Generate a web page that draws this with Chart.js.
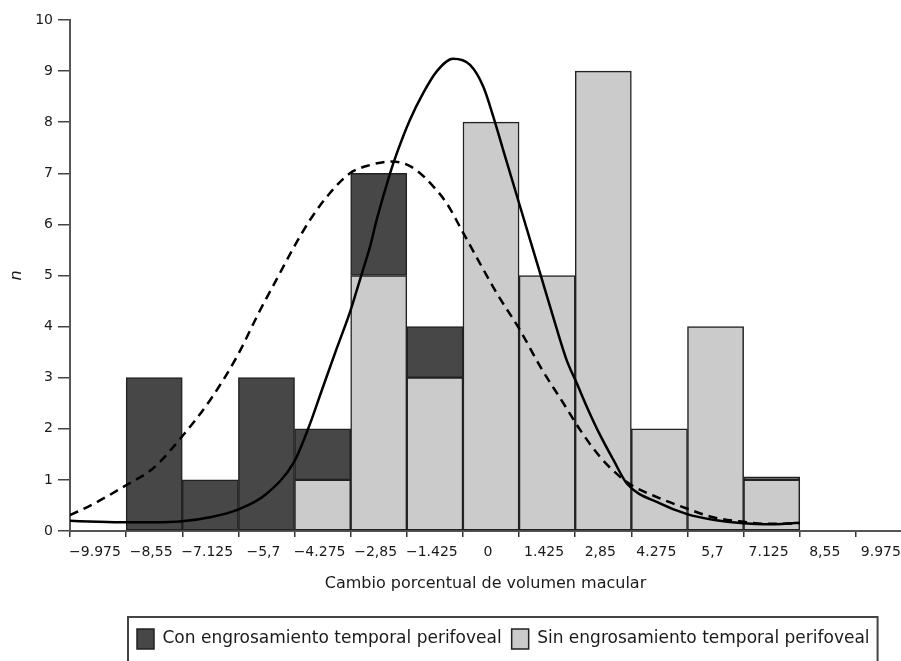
<!DOCTYPE html>
<html>
<head>
<meta charset="utf-8">
<title>Cambio porcentual de volumen macular</title>
<script src="https://cdn.jsdelivr.net/npm/chart.js@4.4.1/dist/chart.umd.min.js"></script>
<style>
  html, body { margin: 0; padding: 0; background: #fff; }
  #chart { display: block; }
</style>
</head>
<body>
<canvas id="chart" width="901" height="661"></canvas>
<script>
// histogram bins: left edge of each bin, counts per group (stacked)
const binStarts = [-8.55, -7.125, -5.7, -4.275, -2.85, -1.425, 0, 1.425, 2.85, 4.275, 5.7, 7.125];
const binWidth = 1.425;
const sinCounts = [0, 0, 0, 1, 5, 3, 8, 5, 9, 2, 4, 1];
const conCounts = [3, 1, 3, 1, 2, 1, 0, 0, 0, 0, 0, 0.06];

// fitted curves
const solidX = [-9.975, -9.26, -8.55, -7.84, -7.13, -6.42, -5.71, -5.0, -4.29, -3.93, -3.58, -3.22, -2.87, -2.70, -2.51, -2.36, -2.19, -1.85, -1.68, -1.35, -1.01, -0.67, -0.25, 0.18, 0.52, 0.77, 1.02, 1.45, 1.96, 2.29, 2.63, 2.89, 3.18, 3.48, 3.82, 4.16, 5.0, 5.69, 6.35, 7.12, 7.71, 8.55];
const solidY = [0.20, 0.18, 0.17, 0.17, 0.19, 0.27, 0.42, 0.72, 1.35, 2.0, 2.76, 3.54, 4.28, 4.70, 5.18, 5.56, 6.09, 7.0, 7.39, 8.04, 8.57, 8.99, 9.24, 9.12, 8.69, 8.11, 7.46, 6.35, 5.04, 4.19, 3.35, 2.89, 2.37, 1.88, 1.39, 0.93, 0.54, 0.33, 0.22, 0.15, 0.13, 0.16];
const dashedX = [-9.975, -9.38, -8.54, -7.86, -7.13, -6.42, -5.74, -5.15, -4.65, -4.31, -3.88, -3.38, -2.87, -2.36, -1.85, -1.52, -1.18, -0.75, -0.41, 0.01, 0.43, 0.86, 1.45, 1.96, 2.55, 3.0, 3.48, 3.99, 4.32, 5.0, 5.68, 6.35, 7.12, 7.71, 8.55];
const dashedY = [0.31, 0.53, 0.90, 1.23, 1.85, 2.56, 3.41, 4.32, 5.04, 5.53, 6.09, 6.61, 7.0, 7.16, 7.23, 7.2, 7.06, 6.74, 6.41, 5.83, 5.24, 4.65, 3.93, 3.22, 2.5, 1.95, 1.45, 1.06, 0.88, 0.64, 0.44, 0.27, 0.18, 0.14, 0.15];

// axes
const xTickValues = [-9.975, -8.55, -7.125, -5.7, -4.275, -2.85, -1.425, 0, 1.425, 2.85, 4.275, 5.7, 7.125, 8.55, 9.975];
const xTickLabels = ['\u22129.975', '\u22128,55', '\u22127.125', '\u22125,7', '\u22124.275', '\u22122,85', '\u22121.425', '0', '1.425', '2,85', '4.275', '5,7', '7.125', '8,55', '9.975'];
const xMin = -9.975;
const xMax = 11.12;
const yMin = 0;
const yMax = 10;

const labelSin = 'Sin engrosamiento temporal perifoveal';
const labelCon = 'Con engrosamiento temporal perifoveal';
const xTitle = 'Cambio porcentual de volumen macular';
const yTitle = 'n';

Chart.defaults.font.family = '"DejaVu Sans", sans-serif';
Chart.defaults.color = '#1a1a1a';

const toBars = (counts) => binStarts.map((s, i) => ({ x: s + binWidth / 2, y: counts[i] || null }));
const toLine = (xs, ys) => xs.map((x, i) => ({ x: x, y: ys[i] }));

// legend row sits right of the canvas start and has a frame around it
const legendFrame = {
  id: 'legendFrame',
  afterLayout(chart) {
    chart.legend.left += 127;
    chart.legend.right += 127;
  },
  afterDraw(chart) {
    const boxes = chart.legend.legendHitBoxes;
    if (!boxes || !boxes.length) return;
    const last = boxes[boxes.length - 1];
    const l = boxes[0].left - 9;
    const r = last.left + last.width + 8;
    const t = boxes[0].top - 12;
    const ctx = chart.ctx;
    ctx.save();
    ctx.strokeStyle = '#444';
    ctx.lineWidth = 2;
    ctx.strokeRect(l, t, r - l, chart.height - t + 10);
    ctx.restore();
  }
};

new Chart(document.getElementById('chart'), {
  type: 'bar',
  data: {
    datasets: [
      {
        label: labelSin,
        data: toBars(sinCounts),
        backgroundColor: '#cbcbcb',
        borderColor: '#222',
        borderWidth: 1.5,
        borderSkipped: false,
        barPercentage: 1,
        categoryPercentage: 1,
        stack: 'hist',
        order: 2
      },
      {
        label: labelCon,
        data: toBars(conCounts),
        backgroundColor: '#474747',
        borderColor: '#222',
        borderWidth: 1.5,
        borderSkipped: false,
        barPercentage: 1,
        categoryPercentage: 1,
        stack: 'hist',
        order: 2
      },
      {
        type: 'line',
        label: 'solid',
        data: toLine(solidX, solidY),
        borderColor: '#000',
        borderWidth: 2.5,
        pointRadius: 0,
        fill: false,
        cubicInterpolationMode: 'monotone',
        stack: 'solid',
        order: 1
      },
      {
        type: 'line',
        label: 'dashed',
        data: toLine(dashedX, dashedY),
        borderColor: '#000',
        borderWidth: 2.5,
        borderDash: [9, 6],
        pointRadius: 0,
        fill: false,
        cubicInterpolationMode: 'monotone',
        stack: 'dashed',
        order: 1
      }
    ]
  },
  options: {
    responsive: false,
    animation: false,
    layout: { padding: { top: 20, right: 0, bottom: 2, left: 0 } },
    plugins: {
      tooltip: { enabled: false },
      legend: {
        position: 'bottom',
        align: 'start',
        labels: {
          boxWidth: 17,
          boxHeight: 20,
          padding: 10,
          font: { size: 17 },
          filter: (item) => item.datasetIndex < 2,
          sort: (a, b) => b.datasetIndex - a.datasetIndex
        }
      }
    },
    scales: {
      x: {
        type: 'linear',
        min: xMin,
        max: xMax,
        offset: false,
        stacked: true,
        afterBuildTicks: (scale) => { scale.ticks = xTickValues.map((v) => ({ value: v })); },
        afterFit: (scale) => { scale.height = 88; },
        grid: { offset: false, drawOnChartArea: false, tickLength: 6, color: '#333', lineWidth: 1.5 },
        border: { color: '#555', width: 2 },
        ticks: {
          autoSkip: false,
          maxRotation: 0,
          labelOffset: 25,
          padding: 7,
          font: { size: 14 },
          callback: (value, index) => xTickLabels[index]
        },
        title: { display: true, text: xTitle, font: { size: 16 }, padding: { top: 4, bottom: 26 } }
      },
      y: {
        min: yMin,
        max: yMax,
        stacked: true,
        afterFit: (scale) => { scale.width = 70; },
        grid: { drawOnChartArea: false, tickLength: 12, color: '#444', lineWidth: 1.5 },
        border: { color: '#555', width: 2 },
        ticks: { stepSize: 1, padding: 5, font: { size: 14 } },
        title: { display: true, text: yTitle, font: { size: 16, style: 'italic' }, padding: { top: 7, bottom: 0 } }
      }
    }
  },
  plugins: [legendFrame]
});
</script>
</body>
</html>
